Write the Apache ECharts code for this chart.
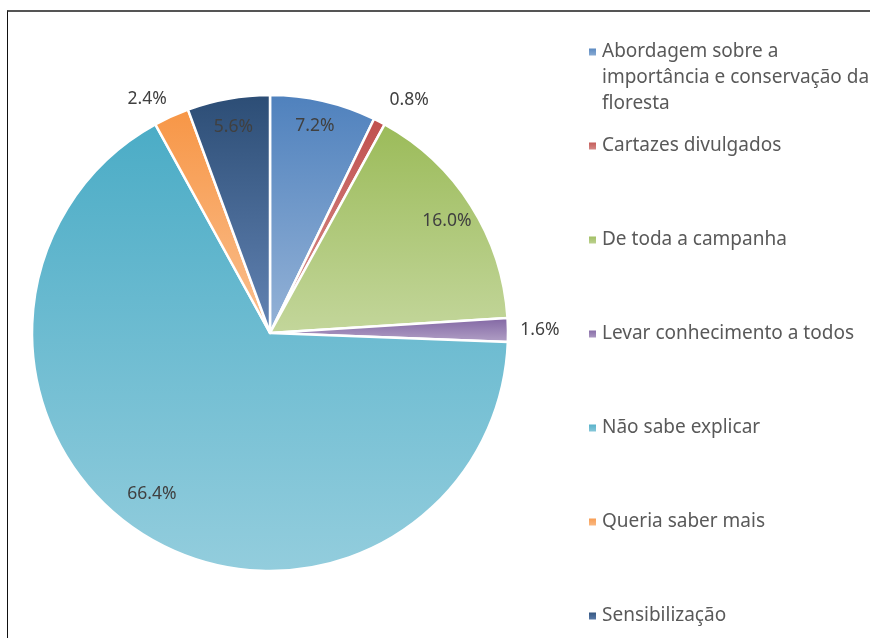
<!DOCTYPE html>
<html>
<head>
<meta charset="utf-8">
<script src="https://cdn.jsdelivr.net/npm/echarts@6/dist/echarts.min.js"></script>
<style>
    html, body { margin: 0; padding: 0; background: #fff; }
    #chart { position: absolute; left: 0; top: 0; width: 870px; height: 638px; }
    #frame {
        position: absolute; left: 7px; top: 10px; right: 0; bottom: 0;
        border-left: 1px solid #111; border-top: 2px solid #555;
        pointer-events: none;
    }
</style>
</head>
<body>
<div id="chart"></div>
<div id="frame"></div>
<script>
// data (percent of answers)
var categories = [
    'Abordagem sobre a importância e conservação da floresta',
    'Cartazes divulgados',
    'De toda a campanha',
    'Levar conhecimento a todos',
    'Não sabe explicar',
    'Queria saber mais',
    'Sensibilização'
];
var values = [7.2, 0.8, 16.0, 1.6, 66.4, 2.4, 5.6];

// office-like palette, top (dark) and bottom (light) of each slice gradient
var topColors = ['#4F81BD', '#C0504D', '#9BBB59', '#8064A2', '#4BACC6', '#F79646', '#2C4D75'];
var bottomColors = ['#95B3D7', '#D99694', '#C3D69B', '#B3A2C7', '#93CDDD', '#FAC090', '#6384B4'];

var FONT = '"Noto Sans", "DejaVu Sans", sans-serif';
var CX = 270, CY = 333, R = 238;
var WRAP = 28;

// small label nudges so they sit where the original placed them
var labelNudge = {1: [15, 7], 4: [-8, -17], 5: [-11, 12], 0: [-2, -3]};

function wrap(text, maxLen) {
    var words = text.split(' ');
    var lines = [];
    var cur = '';
    for (var i = 0; i < words.length; i++) {
        var test = cur ? cur + ' ' + words[i] : words[i];
        if (test.length > maxLen && cur) {
            lines.push(cur);
            cur = words[i];
        } else {
            cur = test;
        }
    }
    if (cur) lines.push(cur);
    return lines;
}

function grad(i) {
    return new echarts.graphic.LinearGradient(0, 0, 0, 1, [
        {offset: 0, color: topColors[i]},
        {offset: 1, color: bottomColors[i]}
    ]);
}

var mainData = [];
var innerLabelData = [];
var outerLabelData = [];
for (var i = 0; i < categories.length; i++) {
    var off = labelNudge[i] || [0, 0];
    mainData.push({name: categories[i], value: values[i], itemStyle: {color: grad(i)}});
    innerLabelData.push({name: categories[i], value: values[i], label: {show: values[i] >= 5, offset: off}});
    outerLabelData.push({name: categories[i], value: values[i], label: {show: values[i] < 5, offset: off}});
}

var labelStyle = {
    position: 'inside',
    color: '#404040',
    fontSize: 17.5,
    fontFamily: FONT,
    formatter: function (p) { return p.value.toFixed(1) + '%'; }
};

// one legend per item so the rows keep the even spacing of the picture
var LINE_H = 26;
var legends = [];
for (var k = 0; k < categories.length; k++) {
    var n = wrap(categories[k], WRAP).length;
    var yc = 52 + 94 * k;
    legends.push({
        data: [categories[k]],
        orient: 'vertical',
        left: 587,
        top: yc - (2 * n - 1) * LINE_H / 2,
        padding: 0,
        icon: 'rect',
        itemWidth: 9,
        itemHeight: 9,
        selectedMode: false,
        formatter: function (name) {
            // blank lines on top keep the first line level with the marker
            var lines = wrap(name, WRAP);
            var pad = [];
            for (var j = 1; j < lines.length; j++) pad.push(' ');
            return pad.concat(lines).join('\n');
        },
        textStyle: {
            color: '#595959',
            fontSize: 19,
            fontFamily: FONT,
            lineHeight: LINE_H
        }
    });
}

var chart = echarts.init(document.getElementById('chart'), null, {renderer: 'canvas'});
chart.setOption({
    animation: false,
    backgroundColor: '#fff',
    legend: legends,
    series: [{
        name: 'main',
        type: 'pie',
        center: [CX, CY],
        radius: [0, R],
        startAngle: 90,
        clockwise: true,
        label: {show: false},
        labelLine: {show: false},
        itemStyle: {borderColor: '#fff', borderWidth: 2.5},
        emphasis: {disabled: true},
        data: mainData
    }, {
        // transparent ring carrying the labels that sit inside the big slices
        name: 'inner labels',
        type: 'pie',
        silent: true,
        center: [CX, CY],
        radius: [175, R],
        startAngle: 90,
        label: labelStyle,
        labelLine: {show: false},
        itemStyle: {color: 'rgba(0,0,0,0)'},
        emphasis: {disabled: true},
        data: innerLabelData
    }, {
        // transparent ring just outside the pie for the small slices
        name: 'outer labels',
        type: 'pie',
        silent: true,
        center: [CX, CY],
        radius: [R, 296],
        startAngle: 90,
        label: labelStyle,
        labelLine: {show: false},
        itemStyle: {color: 'rgba(0,0,0,0)'},
        emphasis: {disabled: true},
        data: outerLabelData
    }]
});
</script>
</body>
</html>
